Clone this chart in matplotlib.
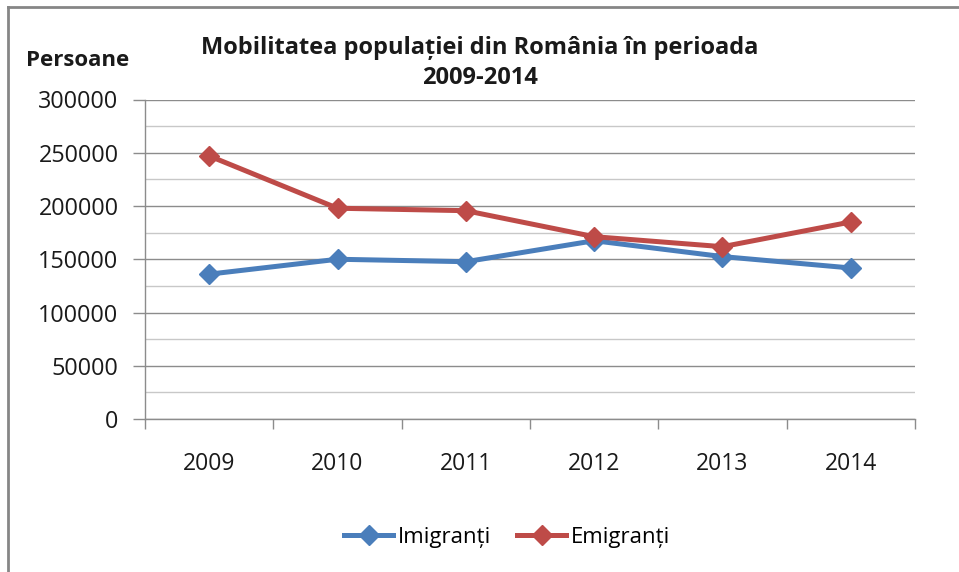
import matplotlib
matplotlib.use("Agg")
import matplotlib.pyplot as plt
from matplotlib.lines import Line2D
from matplotlib.ticker import MultipleLocator, FixedLocator

plt.rcParams['font.family'] = ['Open Sans', 'DejaVu Sans']

years = ["2009", "2010", "2011", "2012", "2013", "2014"]
imigranti = [136000, 150000, 147700, 167400, 152500, 141800]
emigranti = [247000, 197900, 195600, 171200, 161800, 185000]
series_names = ["Imigranți", "Emigranți"]
title_text = "Mobilitatea populației din România în perioada\n2009-2014"
ylabel_text = "Persoane"

W, H = 959, 572
fig = plt.figure(figsize=(W / 100, H / 100), dpi=100)
ax = fig.add_axes([145 / W, 1 - 419 / H, (915 - 145) / W, (419 - 99.5) / H])

x = list(range(len(years)))
blue = "#4a7ebb"
red = "#be4b48"
ax.plot(x, imigranti, color=blue, lw=3.6, marker="D", ms=10, label=series_names[0], zorder=3)
ax.plot(x, emigranti, color=red, lw=3.6, marker="D", ms=10, label=series_names[1], zorder=3)

ax.set_xlim(-0.5, len(years) - 0.5)
ax.set_ylim(0, 300000)
ax.yaxis.set_major_locator(MultipleLocator(50000))
ax.yaxis.set_minor_locator(MultipleLocator(25000))
ax.grid(axis="y", which="major", color="#8c8c8c", lw=1.0, zorder=0)
ax.grid(axis="y", which="minor", color="#c8c8c8", lw=1.0, zorder=0)
ax.set_axisbelow(True)

ax.set_xticks(x)
ax.set_xticklabels(years)
ax.xaxis.set_minor_locator(FixedLocator([i - 0.5 for i in range(len(years) + 1)]))
ax.tick_params(axis="x", which="major", length=0, pad=24, labelsize=16.5, colors="#1a1a1a")
ax.tick_params(axis="x", which="minor", length=7, width=1, color="#8c8c8c", direction="out")
ax.tick_params(axis="y", which="major", length=9, width=1, color="#8c8c8c", pad=10,
               labelsize=16.8, labelcolor="#1a1a1a")
ax.tick_params(axis="y", which="minor", length=0)

for s in ["top", "right"]:
    ax.spines[s].set_visible(False)
for s in ["left", "bottom"]:
    ax.spines[s].set_color("#8c8c8c")
    ax.spines[s].set_linewidth(1)

fig.text(480 / W, 1 - 63 / H, title_text, ha="center", va="center",
         fontsize=17, fontweight="bold", linespacing=1.3, color="#1a1a1a")
fig.text(78 / W, 1 - 60 / H, ylabel_text, ha="center", va="center",
         fontsize=16, fontweight="bold", color="#1a1a1a")

leg = fig.legend(loc="center", bbox_to_anchor=(507 / W, 1 - 537 / H), ncol=2,
                 frameon=False, fontsize=16, handlelength=2.2, handletextpad=0.2,
                 columnspacing=1.2)

# chart frame (top and left edges visible)
fig.add_artist(Line2D([8 / W, 8 / W], [0, 1 - 7 / H], transform=fig.transFigure,
                      color="#868686", lw=2))
fig.add_artist(Line2D([8 / W, 1], [1 - 7 / H, 1 - 7 / H], transform=fig.transFigure,
                      color="#868686", lw=2))

fig.savefig("out.png", dpi=100, facecolor="white")
